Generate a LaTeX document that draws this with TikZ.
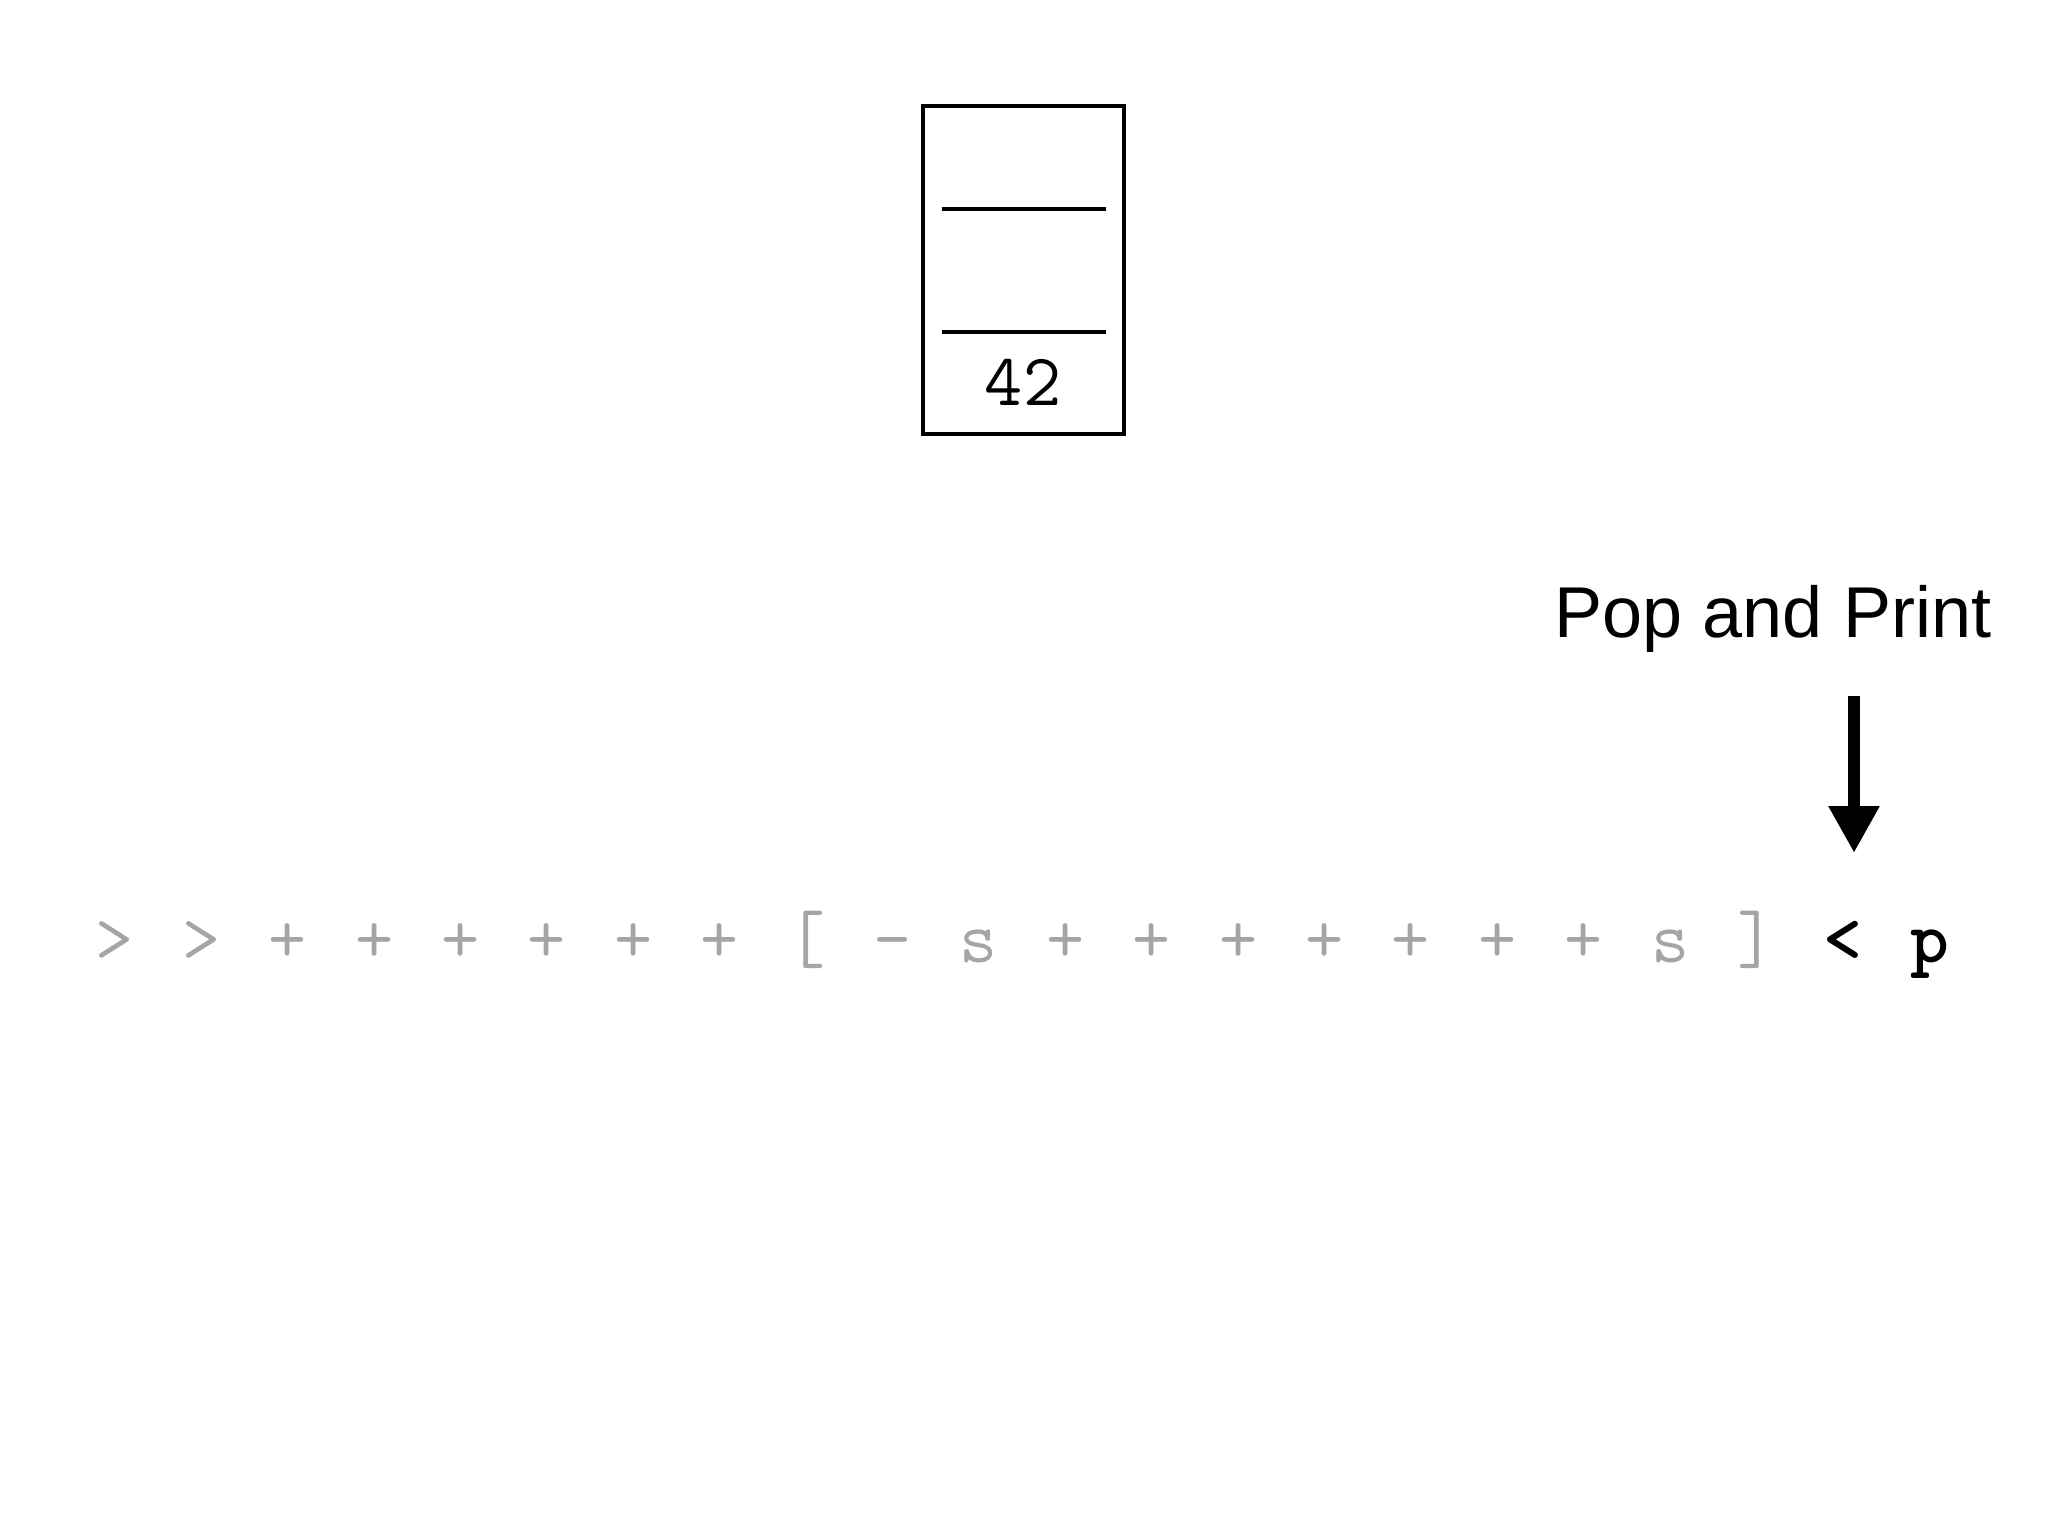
\documentclass[tikz,border=0pt]{standalone}
\usepackage{fontspec}
\newfontfamily\popfont{Liberation Sans}
\usetikzlibrary{arrows.meta}
\definecolor{codegray}{RGB}{165,165,165}
\tikzset{
  code/.style={inner sep=0pt, anchor=base, font=\fontsize{37pt}{40pt}\selectfont\ttfamily, text=codegray},
  codeact/.style={code, font=\fontsize{37pt}{40pt}\selectfont\ttfamily\bfseries, text=black},
  stackbox/.style={draw=black, line width=2pt, minimum width=100.5pt, minimum height=164pt, inner sep=0pt},
  slot/.style={line width=1.8pt},
  bigarrow/.style={line width=6pt, -{Triangle[length=23.5pt, width=24pt]}},
}
\begin{document}
\begin{tikzpicture}[x=0.5pt, y=-0.5pt]
\useasboundingbox (0,0) rectangle (2048,1536);
% stack
\node[stackbox] (stack) at (1023.5,270) {};
\draw[slot] (942,209) -- (1106,209);
\draw[slot] (942,332) -- (1106,332);
\node[code, text=black] (val) at (1023,405) {42};
% label and arrow
\node[inner sep=0pt, anchor=base, font=\fontsize{36pt}{40pt}\selectfont\popfont] (lbl) at (1773,637) {Pop and Print};
\coordinate (atop) at (1854,696);
\coordinate (atip) at (1854,853);
\draw[bigarrow] (atop) -- (atip);
% program row
\node[code] (c0)  at (115.0,962) {>};
\node[code] (c1)  at (201.4,962) {>};
\node[code] (c2)  at (287.8,962) {+};
\node[code] (c3)  at (374.2,962) {+};
\node[code] (c4)  at (460.6,962) {+};
\node[code] (c5)  at (547.0,962) {+};
\node[code] (c6)  at (633.4,962) {+};
\node[code] (c7)  at (719.8,962) {+};
\node[code] (c8)  at (806.2,962) {[};
\node[code] (c9)  at (892.6,962) {-};
\node[code] (c10) at (979.0,962) {s};
\node[code] (c11) at (1065.4,962) {+};
\node[code] (c12) at (1151.8,962) {+};
\node[code] (c13) at (1238.2,962) {+};
\node[code] (c14) at (1324.6,962) {+};
\node[code] (c15) at (1411.0,962) {+};
\node[code] (c16) at (1497.4,962) {+};
\node[code] (c17) at (1583.8,962) {+};
\node[code] (c18) at (1670.2,962) {s};
\node[code] (c19) at (1756.6,962) {]};
\node[codeact] (c20) at (1843.0,962) {<};
\node[codeact] (c21) at (1929.4,962) {p};
\end{tikzpicture}
\end{document}
